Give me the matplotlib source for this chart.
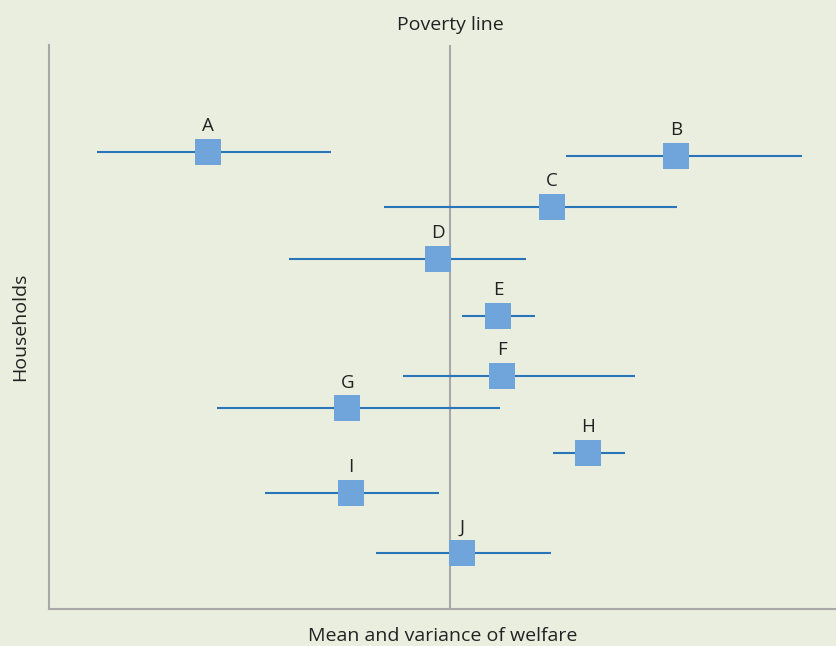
import matplotlib
matplotlib.use("Agg")
import matplotlib.pyplot as plt

# households: label, mean welfare, low, high, vertical position
labels = ["A", "B", "C", "D", "E", "F", "G", "H", "I", "J"]
means = [20.2, 79.7, 63.9, 49.4, 57.1, 57.6, 37.9, 68.5, 38.4, 52.5]
lows = [6.1, 65.7, 42.6, 30.5, 52.5, 45.0, 21.3, 64.0, 27.4, 41.6]
highs = [35.8, 95.7, 79.8, 60.6, 61.8, 74.5, 57.3, 73.2, 49.6, 63.8]
ypos = [81.0, 80.3, 71.3, 62.1, 52.0, 41.3, 35.6, 27.7, 20.6, 9.9]
poverty_line = 51.0

bg = "#eaeedf"
plt.rcParams["font.family"] = ["Open Sans", "DejaVu Sans"]

fig = plt.figure(figsize=(8.36, 6.46), dpi=100, facecolor=bg)
ax = fig.add_axes([49 / 836, 37 / 646, 787 / 836, 564 / 646])
ax.set_facecolor(bg)

ax.axvline(poverty_line, color="#a8a8a8", lw=1.5, zorder=1)
ax.hlines(ypos, lows, highs, color="#2a74b9", lw=1.5, zorder=2)
ax.scatter(means, ypos, marker="s", s=350, color="#6fa5da", zorder=3, linewidths=0)
for lab, x, y in zip(labels, means, ypos):
    ax.annotate(lab, (x, y), xytext=(0, 12), textcoords="offset points",
                ha="center", va="bottom", fontsize=13.5, color="#222222")

ax.set_xlim(0, 100)
ax.set_ylim(0, 100)
ax.set_xticks([])
ax.set_yticks([])
for s in ["top", "right"]:
    ax.spines[s].set_visible(False)
for s in ["left", "bottom"]:
    ax.spines[s].set_color("#a8a8a8")
    ax.spines[s].set_linewidth(1.5)

ax.set_xlabel("Mean and variance of welfare", fontsize=14, color="#222222", labelpad=13)
ax.set_ylabel("Households", fontsize=14, color="#222222", labelpad=14)
ax.text(poverty_line, 102.0, "Poverty line", ha="center", va="bottom",
        fontsize=14, color="#222222")

fig.savefig("out.png", dpi=100, facecolor=bg)
